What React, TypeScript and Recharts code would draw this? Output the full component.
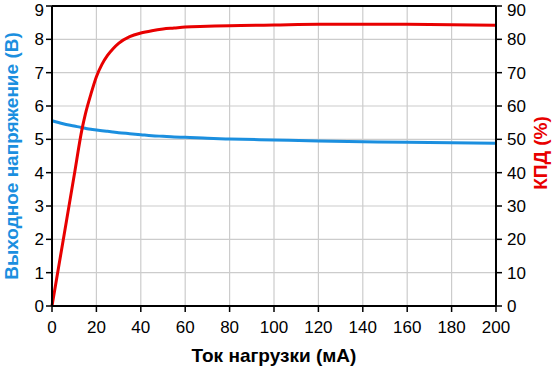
import React from 'react';
import {
  ComposedChart,
  Line,
  XAxis,
  YAxis,
  CartesianGrid,
  ReferenceLine,
} from 'recharts';

const currents = [0, 5, 10, 13.5, 15, 17.5, 20, 22.5, 25, 27.5, 30, 35, 40, 45, 50, 55, 60, 70, 80, 100, 120, 140, 160, 180, 200];
const voltage = [5.56, 5.47, 5.4, 5.35, 5.33, 5.3, 5.28, 5.26, 5.24, 5.22, 5.2, 5.17, 5.14, 5.11, 5.09, 5.07, 5.06, 5.03, 5.01, 4.98, 4.95, 4.93, 4.91, 4.9, 4.88];
const efficiency = [0, 19.6, 39.2, 53, 57.5, 63.5, 68.8, 72.5, 75.2, 77.2, 78.8, 80.8, 81.9, 82.6, 83.1, 83.4, 83.7, 83.9, 84.1, 84.3, 84.5, 84.5, 84.5, 84.4, 84.2];

const xTicks = [0, 20, 40, 60, 80, 100, 120, 140, 160, 180, 200];
const voltTicks = [0, 1, 2, 3, 4, 5, 6, 7, 8, 9];
const effTicks = [0, 10, 20, 30, 40, 50, 60, 70, 80, 90];

const data = currents.map((i, k) => ({ i, v: voltage[k], eff: efficiency[k] }));

const FONT = '"Liberation Sans", Arial, sans-serif';
const BLUE = '#1b8fdf';
const RED = '#e80000';
const tickStyle = { fontSize: 17, fill: '#000', fontFamily: FONT };

const LeftTitle = (props: any) => {
  const vb = props.viewBox;
  const x = vb.x + 11;
  const y = vb.y + vb.height / 2;
  return (
    <text
      x={x}
      y={y}
      transform={`rotate(-90, ${x}, ${y})`}
      textAnchor="middle"
      dominantBaseline="central"
      fontFamily={FONT}
      fontWeight="bold"
      fontSize={19}
      fill={BLUE}
    >
      Выходное напряжение (В)
    </text>
  );
};

const RightTitle = (props: any) => {
  const vb = props.viewBox;
  const x = vb.x + vb.width - 15;
  const y = vb.y + vb.height / 2 - 3;
  return (
    <text
      x={x}
      y={y}
      transform={`rotate(-90, ${x}, ${y})`}
      textAnchor="middle"
      dominantBaseline="central"
      fontFamily={FONT}
      fontWeight="bold"
      fontSize={19}
      fill={RED}
    >
      КПД (%)
    </text>
  );
};

export default function App() {
  return (
    <div style={{ position: 'absolute', left: 0, top: 0, width: 555, height: 367, background: '#fff' }}>
      <ComposedChart width={555} height={367} data={data} margin={{ top: 6, right: 0, bottom: 0, left: 0 }}>
        <CartesianGrid stroke="#cccccc" strokeWidth={1.2} vertical horizontal yAxisId="left" />
        <XAxis
          dataKey="i"
          type="number"
          domain={[0, 200]}
          ticks={xTicks}
          height={61}
          tick={tickStyle}
          tickSize={6}
          tickMargin={9}
          stroke="#000"
          strokeWidth={2}
          tickLine={{ stroke: '#000', strokeWidth: 1.5 }}
          label={{
            value: 'Ток нагрузки (мА)',
            position: 'insideBottom',
            offset: 5,
            style: { fontFamily: FONT, fontWeight: 'bold', fontSize: 19, fill: '#000' },
          }}
        />
        <YAxis
          yAxisId="left"
          domain={[0, 9]}
          ticks={voltTicks}
          width={52}
          tick={tickStyle}
          tickSize={6}
          tickMargin={2}
          stroke="#000"
          strokeWidth={2}
          tickLine={{ stroke: '#000', strokeWidth: 1.5 }}
          label={{ content: LeftTitle }}
        />
        <YAxis
          yAxisId="right"
          orientation="right"
          domain={[0, 90]}
          ticks={effTicks}
          width={59}
          tick={{ ...tickStyle, textAnchor: 'start' }}
          tickSize={6}
          tickMargin={5}
          stroke="#000"
          strokeWidth={2}
          tickLine={{ stroke: '#000', strokeWidth: 1.5 }}
          label={{ content: RightTitle }}
        />
        <ReferenceLine yAxisId="left" y={9} stroke="#000" strokeWidth={2} />
        <Line
          yAxisId="left"
          type="monotone"
          dataKey="v"
          stroke={BLUE}
          strokeWidth={3}
          dot={false}
          isAnimationActive={false}
        />
        <Line
          yAxisId="right"
          type="monotone"
          dataKey="eff"
          stroke={RED}
          strokeWidth={3}
          dot={false}
          isAnimationActive={false}
        />
      </ComposedChart>
    </div>
  );
}
